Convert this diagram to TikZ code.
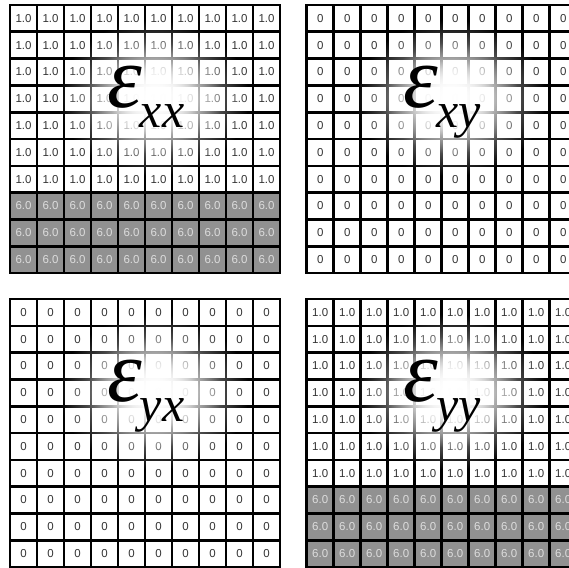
\documentclass[tikz,border=0pt]{standalone}
\usepackage{fontspec}
\setmainfont{Liberation Sans}
\newfontfamily\lblfont{Liberation Serif}
\usetikzlibrary{fadings}
\tikzfading[name=glowfade, inner color=transparent!0, outer color=transparent!100]
\definecolor{cellgray}{HTML}{919191}
\definecolor{txtdark}{HTML}{333333}
\definecolor{txtlight}{HTML}{DDDDDD}
\newcommand\straingrid[4]{%
\begin{scope}[shift={#2}]
\ifnum#3=1 \fill[cellgray] (0,7*26.8) rectangle (270,268);\fi
\foreach \r in {0,...,9}{\foreach \c in {0,...,9}{%
  \ifnum#3=1
    \ifnum\r>6
      \node[celltxtg] (#1-\r-\c) at (\c*27+13.5,\r*26.8+13.4) {6.0};
    \else
      \node[celltxt] (#1-\r-\c) at (\c*27+13.5,\r*26.8+13.4) {1.0};
    \fi
  \else
    \node[celltxt] (#1-\r-\c) at (\c*27+13.5,\r*26.8+13.4) {0};
  \fi
}}
\foreach \i in {1,...,9}{\draw[gridline] (\i*27,0) -- (\i*27,268); \draw[gridline] (0,\i*26.8) -- (270,\i*26.8);}
\draw[gridline] (0,0) rectangle (270,268);
\fill[glow] (144,93) ellipse [x radius=95, y radius=78];
\fill[glow] (144,93) ellipse [x radius=68, y radius=56];
\fill[glow] (144,93) ellipse [x radius=46, y radius=38];
\node[eps] (#1-lbl) at (97,102) {\fontsize{88}{88}\selectfont ε\kern-2pt\raisebox{-20pt}{\fontsize{50}{50}\selectfont #4}};
\end{scope}}
\begin{document}
\begin{tikzpicture}[x=1pt,y=-1pt,
  gridline/.style={line width=2.6pt, black, line cap=rect},
  celltxt/.style={font=\fontsize{11.5}{13}\selectfont, text=txtdark, inner sep=0pt},
  celltxtg/.style={celltxt, text=txtlight},
  glow/.style={fill=white, path fading=glowfade},
  eps/.style={inner sep=0pt, anchor=base west, font=\lblfont\itshape}]
\useasboundingbox[fill=white] (0,0) rectangle (569,567);
\straingrid{xx}{(10,5)}{1}{xx}
\straingrid{xy}{(306.7,5)}{0}{xy}
\straingrid{yx}{(10,299)}{0}{yx}
\straingrid{yy}{(306.7,299)}{1}{yy}
\end{tikzpicture}
\end{document}
